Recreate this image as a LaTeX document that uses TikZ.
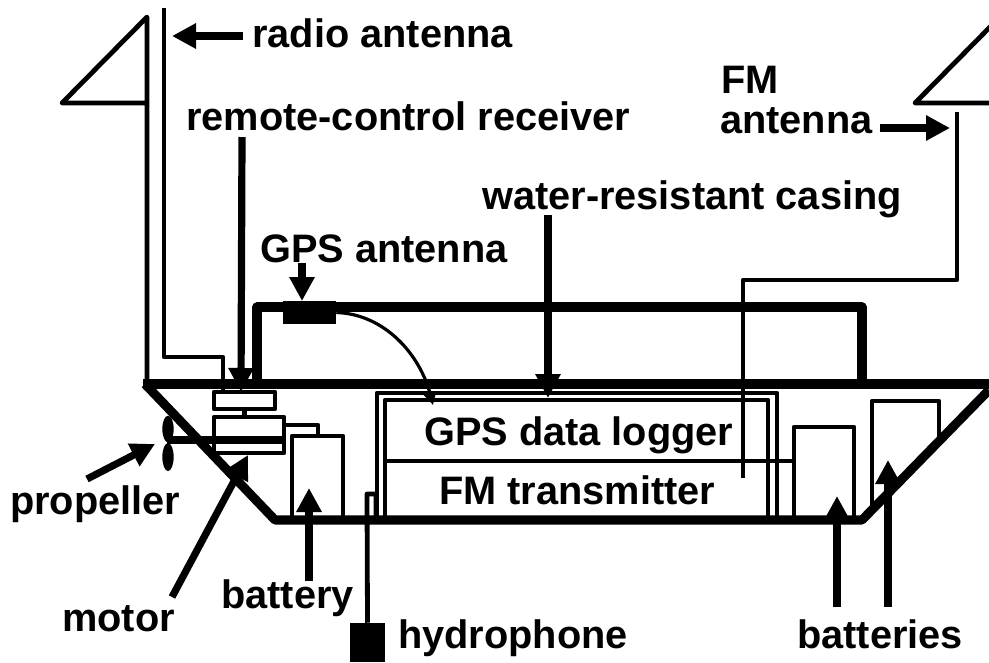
\documentclass[tikz,border=0pt]{standalone}
\usepackage{fontspec}
\setmainfont{Liberation Sans}
\usetikzlibrary{arrows.meta,shapes.geometric}
\tikzset{
  x=0.75pt,y=-0.75pt,
  wire/.style={draw=black,line width=3.6pt,line join=round},
  hull/.style={draw=black,line width=6.8pt,line join=round},
  part/.style={draw=black,line width=3.4pt,fill=none,line join=round},
  lead/.style={draw=black,line width=5.4pt,-{Triangle[length=18pt,width=18pt]}},
  lbl/.style={font=\fontsize{29.8pt}{32pt}\selectfont\bfseries,inner sep=0pt,anchor=base west,text=black},
  solidpart/.style={fill=black,draw=none,inner sep=0pt},
}
\begin{document}
\begin{tikzpicture}
\useasboundingbox[fill=white] (0,0) rectangle (989,662);
% labels
\node[lbl] (radio) at (252,47) {radio antenna};
\node[lbl] (rc) at (186,130) {remote-control receiver};
\node[lbl] (fm1) at (721,93) {FM};
\node[lbl] (fm2) at (720,133) {antenna};
\node[lbl] (water) at (482,209) {water-resistant casing};
\node[lbl] (gpsa) at (260,262) {GPS antenna};
\node[lbl] (logger) at (424,445) {GPS data logger};
\node[lbl] (trans) at (439,504) {FM transmitter};
\node[lbl] (prop) at (10,514) {propeller};
\node[lbl] (batt) at (221,608) {battery};
\node[lbl] (motor) at (62,631) {motor};
\node[lbl] (hyd) at (398,648) {hydrophone};
\node[lbl] (batts) at (797,648) {batteries};
% hull and casing
\draw[hull] (143,384) -- (989,384);
\draw[hull] (145,384) -- (275,520) -- (862,520) -- (989,390);
\draw[hull] (257,384) -- (257,307) -- (862,307) -- (862,384);
% left antenna
\draw[wire] (147,384) -- (147,17) -- (62,103) -- (147,103);
\draw[wire] (164,8) -- (164,357) -- (223,357) -- (223,392);
% receiver and motor
\node[part,minimum width=45.75pt,minimum height=12.75pt,inner sep=0pt] (rx) at (244.5,400.5) {};
\node[part,minimum width=52.5pt,minimum height=27pt,inner sep=0pt] (mot) at (249,435) {};
\draw[wire] (rx.south) -- (mot.north -| rx.south);
\draw[line width=6.4pt] (167,440) -- (284,440);
\node[solidpart,ellipse,minimum width=8.5pt,minimum height=20pt] (bl1) at (168,429) {};
\node[solidpart,ellipse,minimum width=8.5pt,minimum height=21pt] (bl2) at (168,457) {};
% battery
\draw[wire] (292,520) -- (292,436) -- (343,436) -- (343,520);
\draw[wire] (284,425) -- (318,425) -- (318,436);
% hydrophone
\node[solidpart,minimum width=26.25pt,minimum height=29.25pt] (hp) at (367.5,642.5) {};
\draw[wire] (hp.north) -- (367,494) -- (376,494) -- (376,520);
% GPS antenna
\node[solidpart,minimum width=39.75pt,minimum height=17.25pt] (ga) at (309.5,312.5) {};
% inner casing and logger
\draw[wire] (377,520) -- (377,393) -- (777,393) -- (777,520);
\draw[wire] (385,520) -- (385,400) -- (768,400) -- (768,520);
\draw[wire] (385,461) -- (794,461);
% batteries
\draw[wire] (794,520) -- (794,427) -- (854,427) -- (854,520);
\draw[wire] (872,510) -- (872,401) -- (939,401) -- (939,442);
% FM antenna
\draw[wire] (991,26) -- (915,103) -- (989,103);
\draw[wire] (957,112) -- (957,280) -- (743,280) -- (743,478);
% leads
\draw[lead] (243,36) -- (172,36);
\draw[lead] (242,137) -- (241,392);
\draw[lead] (880,128) -- (950,128);
\draw[lead] (548,215) -- (548,398);
\draw[lead] (302,263) -- (302,301);
\draw[line width=2.4pt,-{Triangle[length=9pt,width=9pt]}] (ga.east) .. controls (385,314) and (420,355) .. (433,405);
\draw[lead] (87,479) -- (155,444);
\draw[lead] (172,597) -- (248,455);
\draw[lead] (309,581) -- (309,488);
\draw[lead] (837,607) -- (837,496);
\draw[lead] (888,607) -- (888,460);
\end{tikzpicture}
\end{document}
